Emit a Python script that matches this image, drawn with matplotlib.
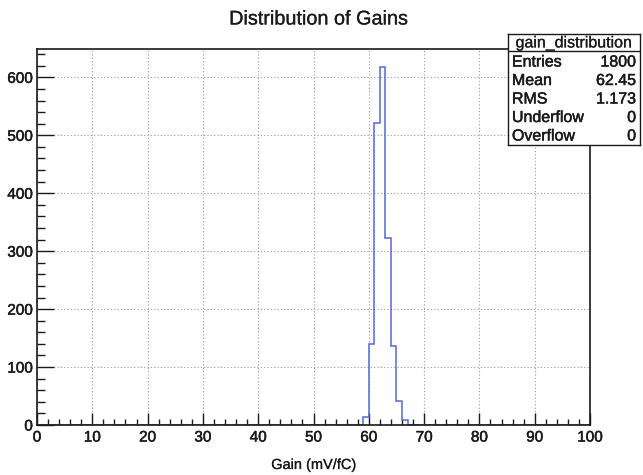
import numpy as np
import matplotlib
matplotlib.use("Agg")
import matplotlib.pyplot as plt
import matplotlib.patheffects as pe
from matplotlib.ticker import MultipleLocator

plt.rcParams['font.family'] = ['Liberation Sans', 'DejaVu Sans']

# histogram: 100 bins of width 1 between 0 and 100
BIN_EDGES = np.arange(0, 101, 1)
FILLED_FROM = 59
FILLED_COUNTS = [13, 139, 521, 618, 322, 136, 42, 9]

STATS_NAME = 'gain_distribution'
STATS_ROWS = [('Entries', '1800'), ('Mean', '62.45'), ('RMS', '1.173'),
              ('Underflow', '0'), ('Overflow', '0')]

W, H = 643, 475
INK = '#1a1a1a'
# slightly heavier glyphs
HEAVY = [pe.withStroke(linewidth=0.35, foreground=INK)]
LIGHT = [pe.withStroke(linewidth=0.15, foreground=INK)]


def fx(px):
    return px / W


def fy(py):
    return 1 - py / H


counts = np.zeros(len(BIN_EDGES) - 1)
counts[FILLED_FROM:FILLED_FROM + len(FILLED_COUNTS)] = FILLED_COUNTS

fig = plt.figure(figsize=(W / 100, H / 100), dpi=100)
ax = fig.add_axes([fx(37), fy(425), fx(590) - fx(37), fy(49) - fy(425)])

ax.stairs(counts, BIN_EDGES, color='#5468d8', linewidth=1.1)

ax.set_xlim(0, 100)
ax.set_ylim(0, 1.05 * max(FILLED_COUNTS))

ax.xaxis.set_major_locator(MultipleLocator(10))
ax.xaxis.set_minor_locator(MultipleLocator(2))
ax.yaxis.set_major_locator(MultipleLocator(100))
ax.yaxis.set_minor_locator(MultipleLocator(20))

ax.tick_params(axis='both', which='both', direction='in', top=False, right=False,
               colors=INK, labelsize=11, width=1.0)
ax.tick_params(axis='x', which='major', length=9, pad=4)
ax.tick_params(axis='x', which='minor', length=4.5)
ax.tick_params(axis='y', which='major', length=12, pad=3)
ax.tick_params(axis='y', which='minor', length=6)
for lab in ax.get_xticklabels() + ax.get_yticklabels():
    lab.set_path_effects(HEAVY)

ax.grid(True, which='major', linestyle=(0, (1, 2)), color='#999999', linewidth=0.8)
ax.set_axisbelow(True)
for side in ax.spines.values():
    side.set_linewidth(1.2)
    side.set_color(INK)

fig.text(fx(319), fy(19), 'Distribution of Gains', ha='center', va='center',
         fontsize=14.3, color=INK, path_effects=LIGHT)
fig.text(fx(314), fy(465), 'Gain (mV/fC)', ha='center', va='center',
         fontsize=10.5, color=INK, path_effects=LIGHT)

# stats box
box = fig.add_axes([fx(508), fy(145), fx(640) - fx(508), fy(34) - fy(145)])
box.set_xlim(0, 1)
box.set_ylim(145, 34)
box.set_xticks([])
box.set_yticks([])
box.set_facecolor('white')
for side in box.spines.values():
    side.set_linewidth(1.0)
    side.set_color(INK)
box.axhline(51, color=INK, linewidth=1.0)
box.text(0.5, 43, STATS_NAME, ha='center', va='center', fontsize=11.5, color=INK,
         path_effects=LIGHT)
row_y = [62, 80.5, 99, 117.5, 136]
for (name, val), y in zip(STATS_ROWS, row_y):
    box.text(0.03, y, name, ha='left', va='center', fontsize=11.5, color=INK,
             path_effects=HEAVY)
    box.text(0.97, y, val, ha='right', va='center', fontsize=11.5, color=INK,
             path_effects=HEAVY)

fig.savefig('out.png', dpi=100)
